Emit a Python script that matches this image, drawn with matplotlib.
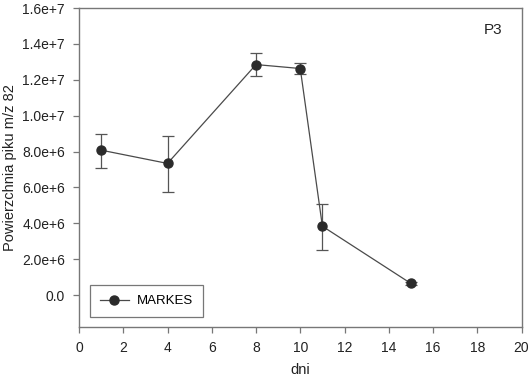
import matplotlib
matplotlib.use("Agg")
import matplotlib.pyplot as plt
from matplotlib.ticker import FuncFormatter
from matplotlib.lines import Line2D

plt.rcParams['font.family'] = ['Liberation Sans', 'DejaVu Sans']

# data
days = [1, 4, 8, 10, 11, 15]
area = [8.08e6, 7.34e6, 12.85e6, 12.63e6, 3.84e6, 0.65e6]
err_low = [1.00e6, 1.58e6, 0.65e6, 0.32e6, 1.33e6, 0.10e6]
err_high = [0.91e6, 1.52e6, 0.62e6, 0.31e6, 1.25e6, 0.10e6]
y_ticks = [0.0, 2e6, 4e6, 6e6, 8e6, 1e7, 1.2e7, 1.4e7, 1.6e7]
x_ticks = list(range(0, 21, 2))


def sci_label(v, pos):
    if v == 0:
        return '0.0'
    exp = len(str(int(abs(v)))) - 1
    return '%.1fe+%d' % (v / 10 ** exp, exp)


fig = plt.figure(figsize=(5.32, 3.78), dpi=100)
ax = fig.add_axes([0.1485, 0.1357, 0.8318, 0.843])

ax.errorbar(days, area, yerr=[err_low, err_high], color='#4a4a4a', lw=0.9,
            marker='o', markersize=6.5, markerfacecolor='#2b2b2b',
            markeredgecolor='#2b2b2b', ecolor='#555555', elinewidth=0.9,
            capsize=4, capthick=0.9)

ax.set_xlim(0, 20)
ax.set_ylim(-1.76e6, 1.6e7)
ax.set_xticks(x_ticks)
ax.set_yticks(y_ticks)
ax.yaxis.set_major_formatter(FuncFormatter(sci_label))

for s in ax.spines.values():
    s.set_color('#777777')
    s.set_linewidth(1.0)
ax.tick_params(direction='out', length=4, width=0.9, color='#777777',
               labelsize=10, labelcolor='#222222', pad=6)

ax.set_xlabel('dni', fontsize=10.5, color='#222222', labelpad=6)
ax.set_ylabel('Powierzchnia piku m/z 82', fontsize=10.5, color='#222222', labelpad=4)
ax.text(0.935, 0.93, 'P3', transform=ax.transAxes, fontsize=11,
        color='#222222', ha='center', va='center')

handle = Line2D([], [], color='#4a4a4a', lw=0.9, marker='o', markersize=6.5,
                markerfacecolor='#2b2b2b', markeredgecolor='#2b2b2b')
leg = ax.legend([handle], ['MARKES'], loc='lower left',
                bbox_to_anchor=(0.024, 0.03), fontsize=9.5,
                frameon=True, fancybox=False, handlelength=2.2,
                handletextpad=0.6, borderpad=0.75, borderaxespad=0)
leg.get_frame().set_edgecolor('#555555')
leg.get_frame().set_linewidth(0.9)

fig.savefig('out.png', dpi=100)
